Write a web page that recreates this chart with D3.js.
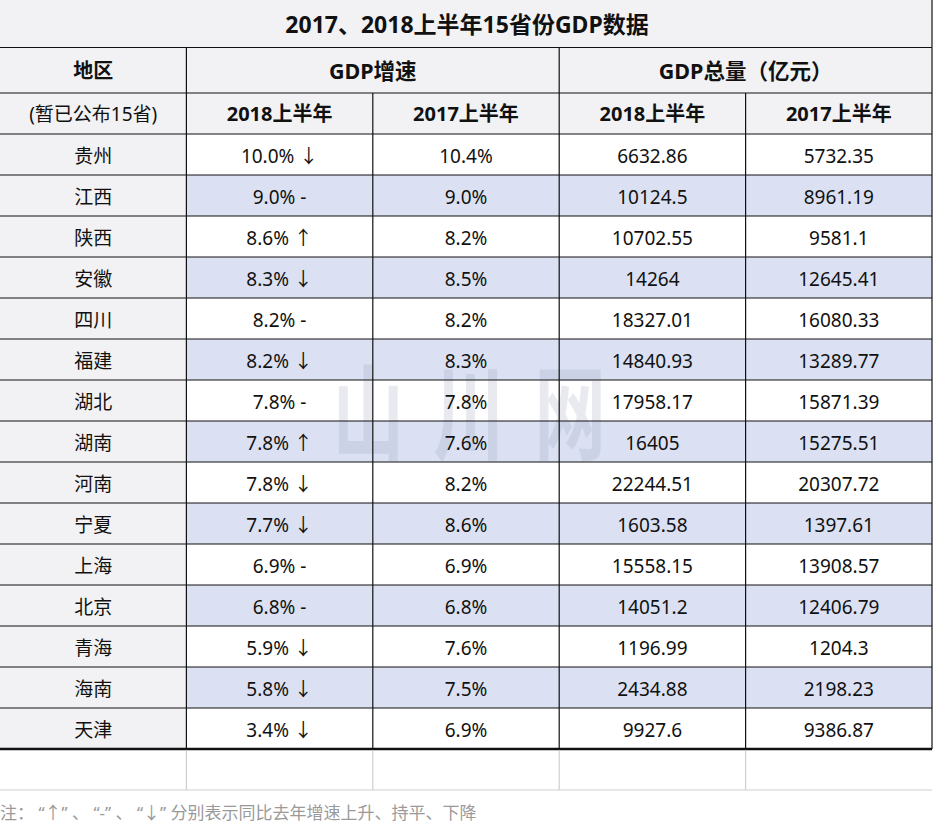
<!DOCTYPE html>
<html><head><meta charset="utf-8">
<script src="https://cdn.jsdelivr.net/npm/d3@7"></script>
<style>
html,body{margin:0;padding:0;background:#fff;}
svg{display:block;}
text{font-family:"Noto Sans","Noto Sans CJK SC",sans-serif;}
</style></head>
<body>
<svg id="c" width="934" height="830"></svg>
<script>
const title = "2017、2018上半年15省份GDP数据";
const provinces = ["贵州","江西","陕西","安徽","四川","福建","湖北","湖南","河南","宁夏","上海","北京","青海","海南","天津"];
const growth2018 = [10.0,9.0,8.6,8.3,8.2,8.2,7.8,7.8,7.8,7.7,6.9,6.8,5.9,5.8,3.4];
const trend = ["↓","-","↑","↓","-","↓","-","↑","↓","↓","-","-","↓","↓","↓"];
const growth2017 = [10.4,9.0,8.2,8.5,8.2,8.3,7.8,7.6,8.2,8.6,6.9,6.8,7.6,7.5,6.9];
const gdp2018 = ["6632.86","10124.5","10702.55","14264","18327.01","14840.93","17958.17","16405","22244.51","1603.58","15558.15","14051.2","1196.99","2434.88","9927.6"];
const gdp2017 = ["5732.35","8961.19","9581.1","12645.41","16080.33","13289.77","15871.39","15275.51","20307.72","1397.61","13908.57","12406.79","1204.3","2198.23","9386.87"];
const colKeys = ["region","g18","g17","v18","v17"];
const groupHeaders = ["地区","GDP增速","GDP总量（亿元）"];
const subHeaders = ["(暂已公布15省)","2018上半年","2017上半年","2018上半年","2017上半年"];
const watermark = ["山","川","网"];
const note = "注： “↑” 、 “-” 、 “↓” 分别表示同比去年增速上升、持平、下降";

const svg = d3.select("#c");
const W = 932;
const x = d3.scaleBand().domain(colKeys).range([0, W]);
const y = d3.scaleBand().domain(provinces).range([134, 749]);
const rowH = y.bandwidth();
const hdr = {title:[0,47.5], group:[47.5,93], sub:[93,134]};

const gray = "#f2f2f4", blue = "#dbe1f2";

// backgrounds
svg.append("rect").attr("x",0).attr("y",0).attr("width",W).attr("height",134).attr("fill",gray);
svg.append("g").selectAll("rect").data(provinces).join("rect")
  .attr("x",0).attr("y",d=>y(d)).attr("width",x.bandwidth()).attr("height",rowH).attr("fill",gray);
svg.append("g").selectAll("rect").data(provinces).join("rect")
  .attr("x",x("g18")).attr("y",d=>y(d)).attr("width",W-x("g18")).attr("height",rowH)
  .attr("fill",(d,i)=> i%2===1 ? blue : "#fff");

// watermark (drawn as glyph paths-like text, narrow & tall)
const wm = d3.scalePoint().domain(watermark).range([368, 570]);
svg.append("g").selectAll("text").data(watermark).join("text")
  .attr("transform",d=>`translate(${wm(d)},452) scale(0.78,1.12)`)
  .attr("text-anchor","middle").attr("font-size",92).attr("font-weight",700)
  .style("font-family","'Noto Sans CJK SC'")
  .attr("fill","#8e9bb6").attr("opacity",0.2).text(d=>d);

// grid lines
const line = (x1,y1,x2,y2,c,w)=>svg.append("line").attr("x1",x1).attr("y1",y1).attr("x2",x2).attr("y2",y2)
  .attr("stroke",c||"#111").attr("stroke-width",w||1.2);
line(0,hdr.title[1],W,hdr.title[1]);
line(0,hdr.group[1],W,hdr.group[1]);
line(0,hdr.sub[1],W,hdr.sub[1]);
provinces.forEach((p,i)=>{ if(i>0) line(0,y(p),W,y(p)); });
line(0,749,W,749,"#111",2.6);
const edges = colKeys.map(k=>x(k)).concat([W]);
edges.forEach((e,i)=>{
  if(i===0) return;
  const top = (i===2||i===4) ? hdr.group[1] : hdr.title[1];
  line(e,top,e,749);
});
line(W,0,W,hdr.title[1]);
edges.forEach((e,i)=>{ if(i>0 && i<edges.length-1) line(e,750,e,790,"#cfcfcf",1.2); });
line(0,790,W,790,"#cfcfcf",1.2);

// texts
const T = (tx,ty,s,opt={})=>svg.append("text").attr("x",tx).attr("y",ty).attr("text-anchor","middle")
  .attr("dominant-baseline","central").attr("font-size",opt.size||19).attr("font-weight",opt.bold?700:400)
  .attr("fill",opt.fill||"#111").text(s);
const cx = k=>x(k)+x.bandwidth()/2;

T(467,24,title,{size:23,bold:true});
const gy = (hdr.group[0]+hdr.group[1])/2;
T(cx("region"),gy,groupHeaders[0],{size:20,bold:true});
T((x("g18")+x("v18"))/2,gy,groupHeaders[1],{size:21.5,bold:true});
T((x("v18")+W)/2,gy,groupHeaders[2],{size:21.5,bold:true});
colKeys.forEach((k,i)=>T(cx(k),(hdr.sub[0]+hdr.sub[1])/2,subHeaders[i],{size:i===0?19:20,bold:i>0}));

provinces.forEach((p,i)=>{
  const yc = y(p)+rowH/2+1;
  T(cx("region"),yc,p);
  T(cx("g18"),yc,growth2018[i].toFixed(1)+"% "+trend[i]);
  T(cx("g17"),yc,growth2017[i].toFixed(1)+"%");
  T(cx("v18"),yc,gdp2018[i]);
  T(cx("v17"),yc,gdp2017[i]);
});

svg.append("text").attr("x",0).attr("y",812).attr("dominant-baseline","central")
  .attr("font-size",17).attr("fill","#9a9a9a").text(note);
</script>
</body></html>
